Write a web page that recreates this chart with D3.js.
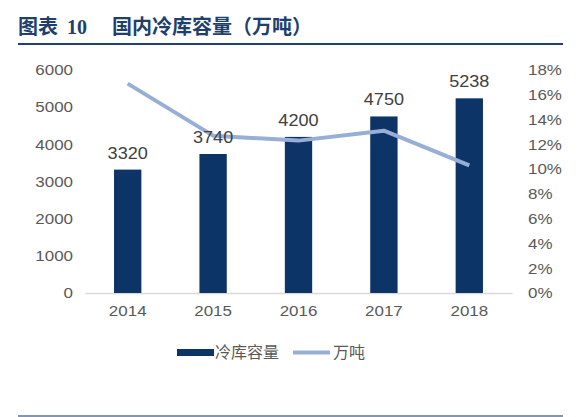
<!DOCTYPE html>
<html>
<head>
<meta charset="utf-8">
<script src="https://cdn.jsdelivr.net/npm/d3@7"></script>
<style>
  body { margin: 0; background: #fff; }
  svg { display: block; font-family: "Liberation Sans", Arial, sans-serif; }
</style>
</head>
<body>
<svg id="chart" width="581" height="417"></svg>
<script>
// Données
const YEARS = ["2014", "2015", "2016", "2017", "2018"];
const CAPACITY = [3320, 3740, 4200, 4750, 5238];
const GROWTH = [0.169, 0.127, 0.123, 0.131, 0.103];
const LEFT_TICKS = [0, 1000, 2000, 3000, 4000, 5000, 6000];
const RIGHT_TICKS = [0, 0.02, 0.04, 0.06, 0.08, 0.10, 0.12, 0.14, 0.16, 0.18];
const TITLE_PARTS = ["图表", "10", "国内冷库容量（万吨）"];
const LEGEND = ["冷库容量", "万吨"];

const SVG = d3.select("#chart");
const BAR_COLOR = "#0c3467";
const LINE_COLOR = "#97afd6";
const TEXT_COLOR = "#595959";
const TITLE_COLOR = "#213f6c";
const STRETCH = 1.13;

// Les textes de l'original sont un peu étirés en largeur
function stretch(sel) {
  sel.each(function () {
    const w = this.getComputedTextLength();
    this.setAttribute("textLength", w * STRETCH);
    this.setAttribute("lengthAdjust", "spacingAndGlyphs");
  });
}

// Titre et filets
const TITLE = SVG.append("text").attr("y", 34).attr("fill", TITLE_COLOR)
  .attr("font-weight", "bold").attr("font-size", 20);
TITLE.append("tspan").attr("x", 18).attr("font-family", "'Noto Sans CJK SC', sans-serif").text(TITLE_PARTS[0]);
TITLE.append("tspan").attr("x", 67).attr("font-family", "'Liberation Serif', serif").text(TITLE_PARTS[1]);
TITLE.append("tspan").attr("x", 112).attr("font-family", "'Noto Sans CJK SC', sans-serif").text(TITLE_PARTS[2]);
SVG.append("line").attr("x1", 18).attr("x2", 563).attr("y1", 44).attr("y2", 44)
  .attr("stroke", TITLE_COLOR).attr("stroke-width", 2);
SVG.append("line").attr("x1", 18).attr("x2", 563).attr("y1", 416).attr("y2", 416)
  .attr("stroke", "#5a7390").attr("stroke-width", 1.5);

// Échelles
const X = d3.scaleBand().domain(YEARS).range([85, 512]).paddingInner(0.68).paddingOuter(0.34);
const Y_LEFT = d3.scaleLinear().domain([0, 6000]).range([293, 70]);
const Y_RIGHT = d3.scaleLinear().domain([0, 0.18]).range([293, 70]);

// Axe gauche
const AXIS_LEFT = SVG.append("g").attr("transform", "translate(73,0)")
  .call(d3.axisLeft(Y_LEFT).tickValues(LEFT_TICKS).tickSize(0).tickPadding(0).tickFormat(d3.format("d")));
AXIS_LEFT.select(".domain").remove();
AXIS_LEFT.selectAll("text").attr("fill", TEXT_COLOR).attr("font-size", 15)
  .attr("font-family", "'Liberation Sans', Arial, sans-serif").call(stretch);

// Axe droit
const AXIS_RIGHT = SVG.append("g").attr("transform", "translate(528,0)")
  .call(d3.axisRight(Y_RIGHT).tickValues(RIGHT_TICKS).tickSize(0).tickPadding(0).tickFormat(d3.format(".0%")));
AXIS_RIGHT.select(".domain").remove();
AXIS_RIGHT.selectAll("text").attr("fill", TEXT_COLOR).attr("font-size", 15)
  .attr("font-family", "'Liberation Sans', Arial, sans-serif").call(stretch);

// Axe horizontal
const AXIS_X = SVG.append("g").attr("transform", "translate(0,293)")
  .call(d3.axisBottom(X).tickSize(0).tickPadding(12));
AXIS_X.select(".domain").attr("stroke", "#d9d9d9").attr("stroke-width", 1.5);
AXIS_X.selectAll("text").attr("fill", TEXT_COLOR).attr("font-size", 15)
  .attr("font-family", "'Liberation Sans', Arial, sans-serif").call(stretch);

// Barres
SVG.selectAll("rect.bar")
  .data(CAPACITY)
  .enter()
  .append("rect")
  .attr("class", "bar")
  .attr("x", (d, i) => X(YEARS[i]))
  .attr("width", X.bandwidth())
  .attr("y", d => Y_LEFT(d))
  .attr("height", d => Y_LEFT(0) - Y_LEFT(d))
  .attr("fill", BAR_COLOR);

// Courbe de croissance
const LINE = d3.line()
  .x((d, i) => X(YEARS[i]) + X.bandwidth() / 2)
  .y(d => Y_RIGHT(d));
SVG.append("path")
  .datum(GROWTH)
  .attr("d", LINE)
  .attr("fill", "none")
  .attr("stroke", LINE_COLOR)
  .attr("stroke-width", 4)
  .attr("stroke-linejoin", "round");

// Étiquettes de valeurs
SVG.selectAll("text.value")
  .data(CAPACITY)
  .enter()
  .append("text")
  .attr("class", "value")
  .attr("x", (d, i) => X(YEARS[i]) + X.bandwidth() / 2)
  .attr("y", d => Y_LEFT(d) - 11)
  .attr("text-anchor", "middle")
  .attr("fill", "#404040")
  .attr("font-size", 16)
  .text(d => d)
  .call(stretch);

// Légende
const LEG = SVG.append("g").attr("font-size", 16).attr("fill", TEXT_COLOR)
  .attr("font-family", "'Noto Sans CJK SC', sans-serif");
LEG.append("rect").attr("x", 177).attr("y", 349).attr("width", 37).attr("height", 7).attr("fill", BAR_COLOR);
LEG.append("text").attr("x", 215).attr("y", 358).text(LEGEND[0]);
LEG.append("line").attr("x1", 293).attr("x2", 330).attr("y1", 352.5).attr("y2", 352.5)
  .attr("stroke", LINE_COLOR).attr("stroke-width", 4);
LEG.append("text").attr("x", 333).attr("y", 358).text(LEGEND[1]);
</script>
</body>
</html>
